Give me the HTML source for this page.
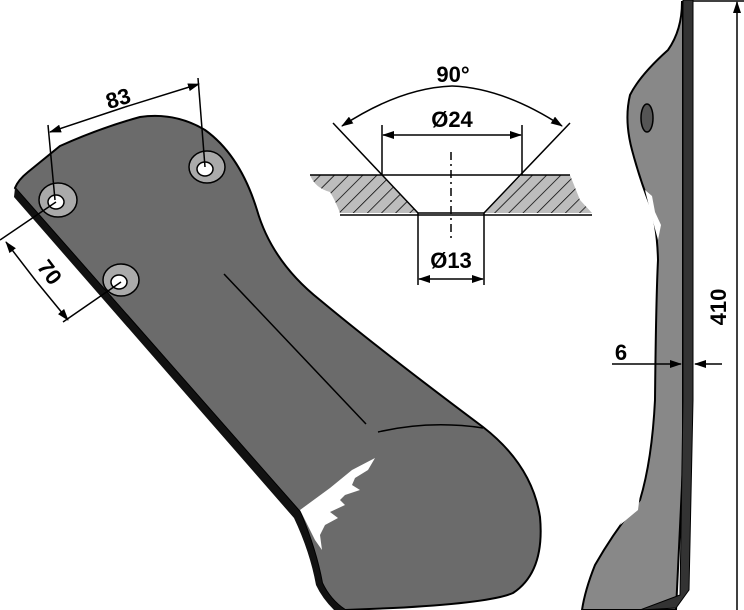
<!DOCTYPE html>
<html><head><meta charset="utf-8"><style>html,body{margin:0;padding:0;background:#fff}svg{display:block}</style></head><body>
<svg width="744" height="610" viewBox="0 0 744 610" xmlns="http://www.w3.org/2000/svg" font-family="Liberation Sans, sans-serif" font-weight="bold">
<defs>
<marker id="a" markerWidth="12" markerHeight="8" refX="11" refY="4" orient="auto" markerUnits="userSpaceOnUse"><path d="M0,0 L12,4 L0,8 z" fill="#000"/></marker>
<pattern id="h" width="10" height="10" patternUnits="userSpaceOnUse" patternTransform="rotate(45)"><rect width="10" height="10" fill="#bdbdbd"/><line x1="0" y1="0" x2="0" y2="10" stroke="#000" stroke-width="1.5"/></pattern>
</defs>
<!-- main blade -->
<path d="M15,188 Q18,180 28,172 L60,146 Q100,128 140,117 Q175,112 205,130 Q240,155 257,210 Q272,262 320,300 Q380,350 483,427 Q532,465 540,517 Q545,572 513,593 Q490,603 393,608 L345,610 Q330,600 322,583 Q316,550 300,512 Z" fill="#6b6b6b" stroke="#000" stroke-width="2"/>
<path d="M15,188 L300,512 Q316,550 322,583 Q330,600 345,610 L334,610 Q322,598 316,585 Q310,552 294,518 L14,197 Z" fill="#111"/>
<!-- white patches -->
<path d="M300,510 L330,488 L352,470 L375,458 L368,470 L355,478 L352,485 L360,490 L345,495 L340,500 L345,505 L330,512 L338,518 L325,525 L320,535 L322,550 L315,540 Z" fill="#fff"/>
<!-- holes -->
<g stroke="#000" stroke-width="1.5">
<ellipse cx="58" cy="200" rx="19" ry="17" fill="#aaa"/><ellipse cx="56" cy="202" rx="8" ry="7" fill="#fff"/>
<ellipse cx="207" cy="167" rx="18" ry="16" fill="#aaa"/><ellipse cx="205" cy="169" rx="8" ry="7" fill="#fff"/>
<ellipse cx="121" cy="280" rx="18" ry="16" fill="#aaa"/><ellipse cx="119" cy="282" rx="8" ry="7" fill="#fff"/>
</g>
<line x1="224" y1="274" x2="366" y2="424" stroke="#000" stroke-width="1.5"/>
<path d="M378,432 Q430,420 483,428" fill="none" stroke="#000" stroke-width="1.5"/>
<!-- dim 83 -->
<g stroke="#000" stroke-width="1.5" fill="none">
<line x1="48" y1="125" x2="55" y2="200"/><line x1="198" y1="78" x2="205" y2="167"/>
<line x1="125" y1="107" x2="50" y2="132" marker-end="url(#a)"/><line x1="125" y1="107" x2="199" y2="84" marker-end="url(#a)"/>
<!-- dim 70 -->
<line x1="56" y1="202" x2="0" y2="240"/><line x1="121" y1="282" x2="63" y2="322"/>
<line x1="36" y1="281" x2="6" y2="242" marker-end="url(#a)"/><line x1="36" y1="281" x2="68" y2="320" marker-end="url(#a)"/>
</g>
<text x="118" y="106" font-size="22" text-anchor="middle" transform="rotate(-17 118 98)">83</text>
<text x="50" y="280" font-size="22" text-anchor="middle" transform="rotate(53 50 272)">70</text>
<!-- countersink -->
<path d="M310,175 L382,175 L418,213 L340,213 Q335,200 330,192 Q315,188 310,175 Z" fill="url(#h)"/>
<path d="M522,175 L570,175 L580,200 L592,213 L484,213 Z" fill="url(#h)"/>
<g stroke="#000" stroke-width="1.5" fill="none">
<line x1="310" y1="175" x2="570" y2="175"/><line x1="340" y1="215" x2="592" y2="215"/>
<line x1="333" y1="123" x2="418" y2="213"/><line x1="570" y1="123" x2="484" y2="213"/>
<line x1="418" y1="213" x2="484" y2="213"/>
<line x1="382" y1="125" x2="382" y2="175"/><line x1="522" y1="125" x2="522" y2="175"/>
<line x1="452" y1="135" x2="383" y2="135" marker-end="url(#a)"/><line x1="452" y1="135" x2="521" y2="135" marker-end="url(#a)"/>
<line x1="418" y1="213" x2="418" y2="285"/><line x1="484" y1="213" x2="484" y2="285"/>
<line x1="451" y1="279" x2="419" y2="279" marker-end="url(#a)"/><line x1="451" y1="279" x2="483" y2="279" marker-end="url(#a)"/>
<line x1="451" y1="152" x2="451" y2="240" stroke-dasharray="8,4,2,4"/>
<path d="M452,86 Q400,88 342,126" marker-end="url(#a)"/><path d="M452,86 Q504,88 562,126" marker-end="url(#a)"/>
</g>
<text x="453" y="82" font-size="22" text-anchor="middle">90°</text>
<text x="452" y="127" font-size="22" text-anchor="middle">Ø24</text>
<text x="451" y="268" font-size="22" text-anchor="middle">Ø13</text>
<!-- side view -->
<path d="M682,2 Q682,30 668,50 Q640,75 630,95 Q624,120 632,150 Q640,180 650,205 Q657,225 658,260 Q656,300 655,400 Q652,460 640,500 Q615,530 595,565 Q585,590 582,610 L676,610 L683,465 L683,2 Z" fill="#888" stroke="#000" stroke-width="2"/>
<path d="M645,190 L652,196 L655,212 L661,225 L658,240 L650,210 Z" fill="#fff"/>
<path d="M635,485 L642,478 L638,510 L620,525 L630,505 Z" fill="#fff"/>
<ellipse cx="647" cy="118" rx="6" ry="14" fill="#555" stroke="#000" stroke-width="1.5"/>
<path d="M683,0 L693,0 L693,400 L689,590 L676,608 L640,610 L680,595 L683,400 Z" fill="#333" stroke="#000" stroke-width="1"/>
<g stroke="#000" stroke-width="1.5" fill="none">
<line x1="693" y1="1" x2="744" y2="1"/>
<line x1="737" y1="610" x2="737" y2="2" marker-end="url(#a)"/>
<line x1="612" y1="364" x2="681" y2="364" marker-end="url(#a)"/>
<line x1="722" y1="364" x2="695" y2="364" marker-end="url(#a)"/>
</g>
<text x="621" y="360" font-size="22" text-anchor="middle">6</text>
<text x="734" y="315" font-size="22" text-anchor="middle" transform="rotate(-90 726 315)">410</text>
</svg>
</body></html>
